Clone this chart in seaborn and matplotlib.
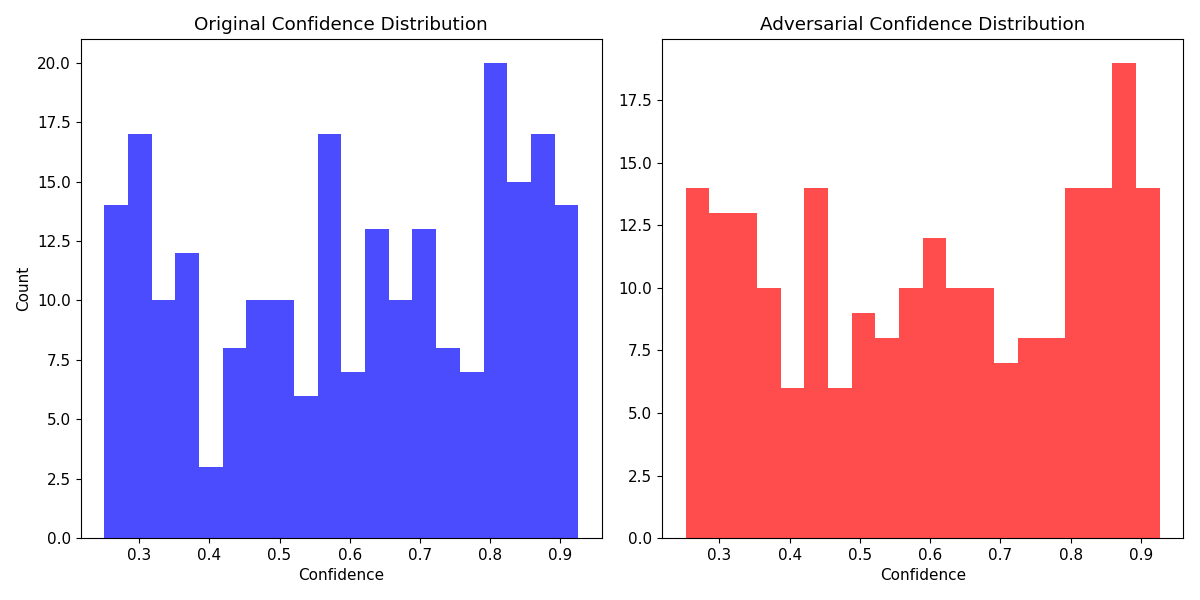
import numpy as np
import pandas as pd
import matplotlib
matplotlib.use("Agg")
import matplotlib.pyplot as plt
import seaborn as sns

# bin counts (20 bins each)
orig_counts = [14, 17, 10, 12, 3, 8, 10, 10, 6, 17, 7, 13, 10, 13, 8, 7, 20, 15, 17, 14]
adv_counts = [14, 13, 13, 10, 6, 14, 6, 9, 8, 10, 12, 10, 10, 7, 8, 8, 14, 14, 19, 14]

orig_range = (0.250, 0.926)
adv_range = (0.252, 0.927)

plt.rcParams['font.size'] = 11

fig, axes = plt.subplots(1, 2, figsize=(12, 6))

panels = [
    (axes[0], orig_counts, orig_range, 'blue', 'Original Confidence Distribution'),
    (axes[1], adv_counts, adv_range, 'red', 'Adversarial Confidence Distribution'),
]

for ax, counts, (lo, hi), color, title in panels:
    edges = np.linspace(lo, hi, len(counts) + 1)
    df = pd.DataFrame({
        'conf': (edges[:-1] + edges[1:]) / 2,
        'n': counts,
    })
    sns.histplot(data=df, x='conf', weights='n', bins=len(counts),
                 binrange=(lo, hi), color=color, alpha=0.7, linewidth=0, ax=ax)
    ax.set_title(title)
    ax.set_xlabel('Confidence')

axes[0].set_ylabel('Count')
axes[1].set_ylabel('')

plt.tight_layout()
plt.savefig('out.png', dpi=100)
